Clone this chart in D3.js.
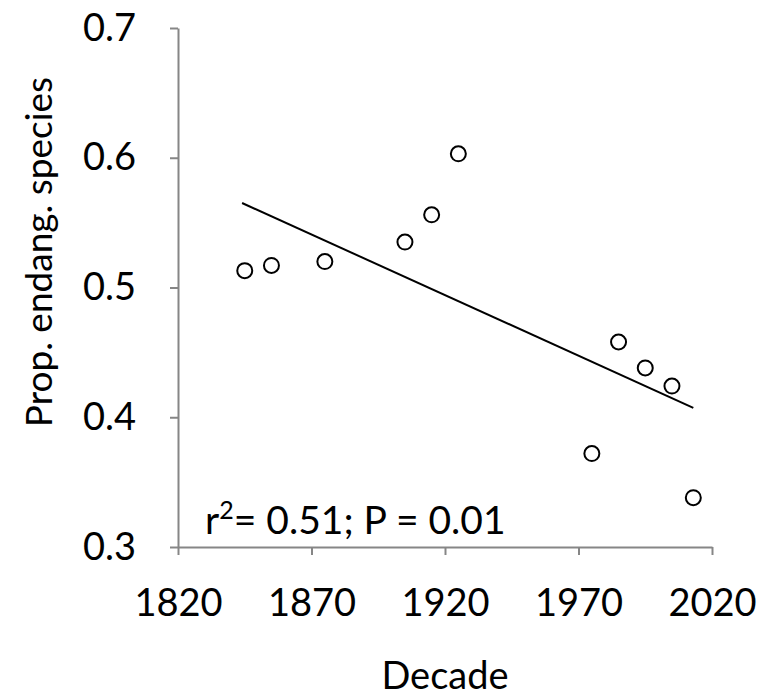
<!DOCTYPE html>
<html>
<head>
<meta charset="utf-8">
<script src="https://cdn.jsdelivr.net/npm/d3@7"></script>
<style>
  body { margin: 0; background: #fff; }
  text { font-family: Lato, "Open Sans", sans-serif; fill: #000; }
</style>
</head>
<body>
<div id="chart"></div>
<script>
// decade midpoints and proportion of endangered species
const decades = [1845, 1855, 1875, 1905, 1915, 1925, 1975, 1985, 1995, 2005, 2013];
const propEndangered = [0.513, 0.517, 0.520, 0.535, 0.556, 0.603, 0.372, 0.458, 0.438, 0.424, 0.338];
const xTicks = [1820, 1870, 1920, 1970, 2020];
const yTicks = [0.3, 0.4, 0.5, 0.6, 0.7];
const statsLabel = "= 0.51; P = 0.01";

const width = 763, height = 699;
const margin = { left: 178, right: 51, top: 28, bottom: 152 };

const svg = d3.select("#chart").append("svg")
    .attr("width", width)
    .attr("height", height);

const x = d3.scaleLinear().domain([1820, 2020]).range([margin.left, width - margin.right]);
const y = d3.scaleLinear().domain([0.3, 0.7]).range([height - margin.bottom, margin.top]);

const axisColor = "#868686";

// x axis
const gx = svg.append("g")
    .attr("transform", `translate(0,${y(0.3)})`)
    .call(d3.axisBottom(x).tickValues(xTicks).tickFormat(d3.format("d")).tickSize(8).tickSizeOuter(0).tickPadding(34));

// y axis
const gy = svg.append("g")
    .attr("transform", `translate(${x(1820)},0)`)
    .call(d3.axisLeft(y).tickValues(yTicks).tickFormat(d3.format(".1f")).tickSize(8).tickSizeOuter(0).tickPadding(34));

[gx, gy].forEach(g => {
    g.select(".domain").attr("stroke", axisColor).attr("stroke-width", 2);
    g.selectAll(".tick line").attr("stroke", axisColor).attr("stroke-width", 2);
    g.selectAll(".tick text").style("font-size", "38px").attr("fill", "#000");
});

// least squares trend line
const pts = decades.map((d, i) => [d, propEndangered[i]]);
const mx = d3.mean(decades), my = d3.mean(propEndangered);
const slope = d3.sum(pts, p => (p[0] - mx) * (p[1] - my)) / d3.sum(pts, p => (p[0] - mx) ** 2);
const icpt = my - slope * mx;
const x0 = d3.min(decades) - 1, x1 = d3.max(decades);

svg.append("line")
    .attr("x1", x(x0)).attr("y1", y(icpt + slope * x0))
    .attr("x2", x(x1)).attr("y2", y(icpt + slope * x1))
    .attr("stroke", "#000")
    .attr("stroke-width", 2);

// points
svg.selectAll("circle.pt")
    .data(pts)
    .enter()
    .append("circle")
    .attr("class", "pt")
    .attr("cx", d => x(d[0]))
    .attr("cy", d => y(d[1]))
    .attr("r", 7.5)
    .attr("fill", "#fff")
    .attr("stroke", "#000")
    .attr("stroke-width", 2);

// stats annotation
const ann = svg.append("text")
    .attr("x", 205)
    .attr("y", 534)
    .style("font-size", "39px");
ann.append("tspan").text("r");
ann.append("tspan").attr("dy", -15).style("font-size", "25px").text("2");
ann.append("tspan").attr("dy", 15).text(statsLabel);

// axis titles
svg.append("text")
    .attr("x", x(1920))
    .attr("y", 689)
    .attr("text-anchor", "middle")
    .style("font-size", "38px")
    .text("Decade");

svg.append("text")
    .attr("transform", `translate(52,${252}) rotate(-90)`)
    .attr("text-anchor", "middle")
    .style("font-size", "37px")
    .text("Prop. endang. species");
</script>
</body>
</html>
